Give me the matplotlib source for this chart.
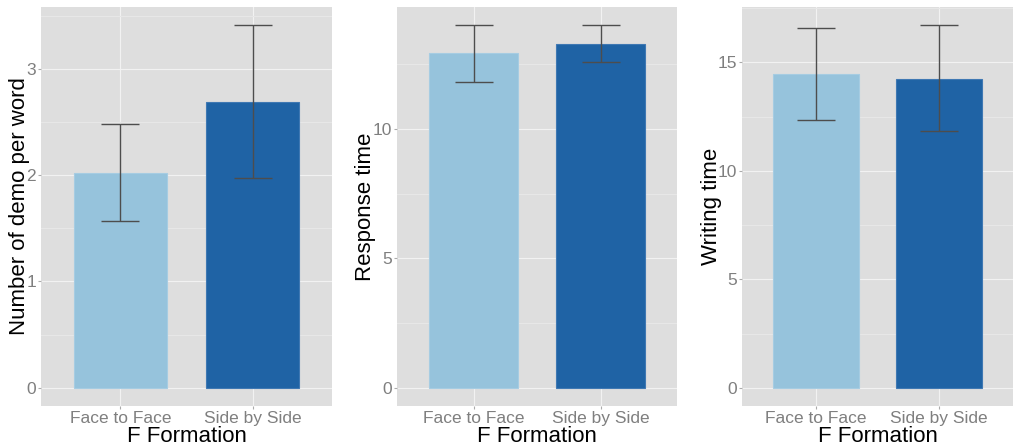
import matplotlib
matplotlib.use("Agg")
import matplotlib.pyplot as plt
import numpy as np

plt.rcParams['font.family'] = ['Liberation Sans', 'DejaVu Sans']

categories = ["Face to Face", "Side by Side"]
x_title = "F Formation"

demo_mean = [2.02, 2.69]
demo_lo = [1.57, 1.97]
demo_hi = [2.48, 3.41]

resp_mean = [12.92, 13.29]
resp_lo = [11.83, 12.57]
resp_hi = [14.01, 14.01]

writ_mean = [14.45, 14.25]
writ_lo = [12.35, 11.83]
writ_hi = [16.59, 16.72]

panels = [
    ("Number of demo per word", demo_mean, demo_lo, demo_hi, [0, 1, 2, 3], -0.037),
    ("Response time", resp_mean, resp_lo, resp_hi, [0, 5, 10], -0.078),
    ("Writing time", writ_mean, writ_lo, writ_hi, [0, 5, 10, 15], -0.075),
]

bar_colors = ["#96C3DC", "#1F63A5"]
edge_colors = ["#A6CCE2", "#3F78B3"]
bg = "#DEDEDE"

W, H = 1013, 445
fig = plt.figure(figsize=(W / 100, H / 100), dpi=100)
boxes = [(41, 332), (397.3, 676.7), (742.3, 1012.7)]
top_px, bot_px = 7, 406

for (l, r), (ylab, mean, lo, hi, yt, lx) in zip(boxes, panels):
    ax = fig.add_axes([l / W, 1 - bot_px / H, (r - l) / W, (bot_px - top_px) / H])
    ax.set_facecolor(bg)
    for s in ax.spines.values():
        s.set_visible(False)
    xs = np.arange(len(categories))
    mean = np.array(mean)
    lo = np.array(lo)
    hi = np.array(hi)
    ax.bar(xs, mean, width=0.7, color=bar_colors, edgecolor=edge_colors,
           linewidth=0.8, zorder=3)
    ax.errorbar(xs, mean, yerr=[mean - lo, hi - mean], fmt='none',
                ecolor='#4D4D4D', elinewidth=1.0, capsize=13.8, capthick=1.0,
                zorder=4)
    ymax = hi.max()
    ax.set_ylim(-0.05 * ymax, 1.05 * ymax)
    ax.set_xlim(-0.6, 1.6)
    ax.set_yticks(yt)
    minor = [v + (yt[1] - yt[0]) / 2 for v in yt]
    ax.set_yticks([m for m in minor if m < 1.05 * ymax], minor=True)
    ax.set_xticks(xs)
    ax.set_xticklabels(categories)
    ax.grid(True, which='major', color='#F2F2F2', linewidth=0.8, zorder=0)
    ax.grid(True, which='minor', axis='y', color='#E7E7E7', linewidth=0.8, zorder=0)
    ax.set_axisbelow(True)
    ax.tick_params(axis='both', which='major', labelsize=12.5, labelcolor='#7F7F7F',
                   color='#ABABAB', length=2.5, width=0.8, pad=1)
    ax.tick_params(axis='y', which='minor', length=0)
    ax.set_xlabel(x_title, fontsize=16, color='black', labelpad=0)
    ax.set_ylabel(ylab, fontsize=16, color='black')
    ax.yaxis.set_label_coords(lx, 0.5)

fig.savefig("out.png", dpi=100)
